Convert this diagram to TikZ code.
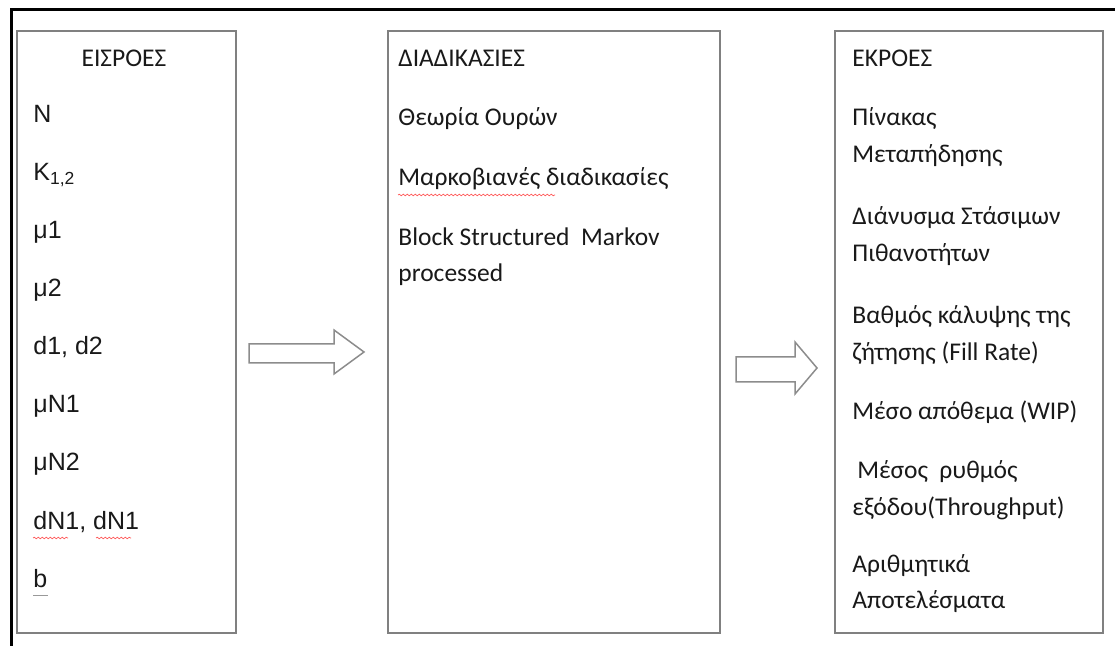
\documentclass[tikz,border=0pt]{standalone}
\usepackage{fontspec}
\setmainfont{Carlito}
\newfontfamily\arialfont{Liberation Sans}
\usepackage{tikz}
\usetikzlibrary{decorations.pathmorphing}
% hollow block arrow: x left, x head, x tip, y body top, y body bottom, y head top, y head bottom, y tip
\newcommand\hollowarrow[8]{
  \draw[hollow] (#1,#4) -- (#2,#4) -- (#2,#6) -- (#3,#8) -- (#2,#7) -- (#2,#5) -- (#1,#5) -- cycle;
}

\begin{document}
\begin{tikzpicture}[x=0.5pt, y=-0.5pt,
    panel/.style = {draw=black!50, line width=1pt, minimum width=#1, minimum height=301pt, inner sep=0pt},
    head/.style = {anchor=base, inner sep=0pt, text=black!90, font=\fontsize{12.75}{15}\selectfont},
    txt/.style = {anchor=base west, inner sep=0pt, text=black!90, font=\fontsize{12.75}{15}\selectfont},
    item/.style = {anchor=base west, inner sep=0pt, text=black!90, font=\arialfont\fontsize{12.5}{15}\selectfont},
    hollow/.style = {draw=black!45, line width=0.75pt, line join=miter},
    spell/.style = {draw=red!65, line width=0.35pt, decorate, decoration={snake, amplitude=0.4pt, segment length=2pt}}]
	\useasboundingbox (0,0) rectangle (1115,646);
	% outer frame, only top and left edge in view
	\draw[line width=1.5pt] (1120,9.5) -| (11,652);
	% the three panels
	\node[panel=109.5pt] (inputs) at (126.5,332){};
	\node[panel=166pt] (process) at (554,332){};
	\node[panel=134pt] (outputs) at (969,332){};
	% inputs
	\node[head] (inhead) at (124,67){ΕΙΣΡΟΕΣ};
	\node[item] (iN) at (33,123){N};
	\node[item] (iK) at (33,181){K\textsubscript{1,2}};
	\node[item] (imu1) at (33,239){μ1};
	\node[item] (imu2) at (33,297){μ2};
	\node[item] (id) at (33,355){d1, d2};
	\node[item] (imuN1) at (33,413){μN1};
	\node[item] (imuN2) at (33,471){μN2};
	\node[item] (idN) at (33,530){dN1, dN1};
	\node[item] (ib) at (33,588){b};
	% processes
	\node[txt] (prhead) at (398,67){ΔΙΑΔΙΚΑΣΙΕΣ};
	\node[txt] (queue) at (398,126){Θεωρία Ουρών};
	\node[txt] (markov) at (398,186){Μαρκοβιανές διαδικασίες};
	\node[txt] (block) at (398,246){Block Structured\ \ Markov};
	\node[txt] (block2) at (398,282){processed};
	% outputs
	\node[txt] (outhead) at (852,67){ΕΚΡΟΕΣ};
	\node[txt] (o1) at (852,126){Πίνακας};
	\node[txt] (o1b) at (852,163){Μεταπήδησης};
	\node[txt] (o2) at (852,225){Διάνυσμα Στάσιμων};
	\node[txt] (o2b) at (852,262){Πιθανοτήτων};
	\node[txt] (o3) at (852,324){Βαθμός κάλυψης της};
	\node[txt] (o3b) at (852,361){ζήτησης (Fill Rate)};
	\node[txt] (o4) at (852,420){Μέσο απόθεμα (WIP)};
	\node[txt] (o5) at (857,479){Μέσος\ \ ρυθμός};
	\node[txt] (o5b) at (852,516){εξόδου(Throughput)};
	\node[txt] (o6) at (852,573){Αριθμητικά};
	\node[txt] (o6b) at (852,609){Αποτελέσματα};
	% arrows between panels
	\hollowarrow{249}{334}{364}{344}{363}{330}{374}{352}
	\hollowarrow{736}{795}{817}{357}{382}{342}{394}{368}
	% spell-check marks
	\draw[spell] (398,195) -- (555,195);
	\draw[spell] (33,538) -- (68,538);
	\draw[spell] (96,538) -- (131,538);
	\draw[draw=black!40, line width=0.4pt] (33,595) -- (48,595);
\end{tikzpicture}
\end{document}
